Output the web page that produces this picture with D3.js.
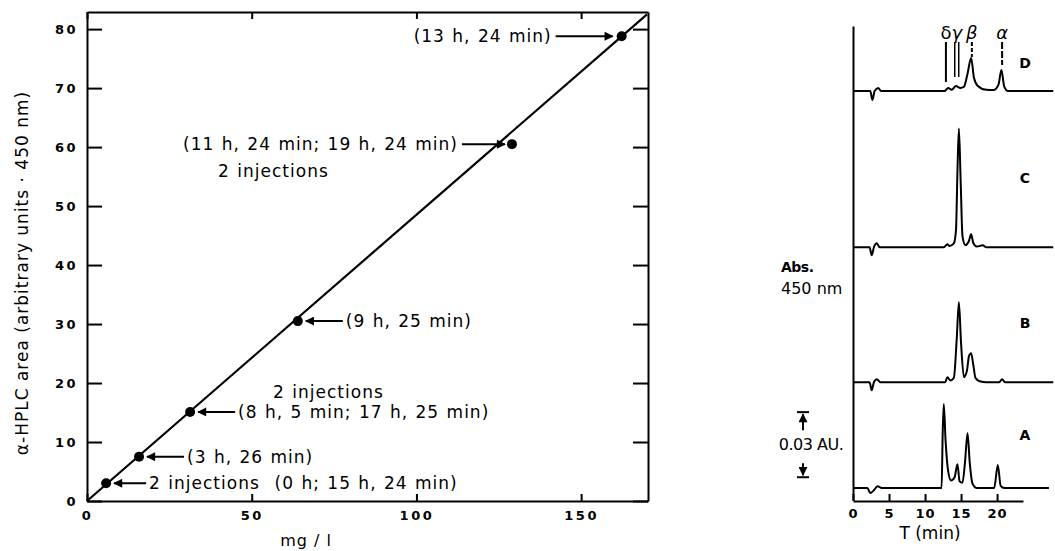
<!DOCTYPE html>
<html lang="en">
<head>
<meta charset="utf-8">
<title>HPLC calibration and chromatograms</title>
<script src="https://d3js.org/d3.v7.min.js"></script>
<style>
  body { margin: 0; background: #fff; }
  svg { display: block; font-family: "DejaVu Sans", sans-serif; }
  .axis path, .axis line { stroke: #000; stroke-width: 2; }
  .axis text { font-family: "DejaVu Sans", sans-serif; font-size: 13px; font-weight: bold; letter-spacing: 2.5px; fill: #000; }
  .note { font-size: 17px; letter-spacing: 1px; word-spacing: 1px; }
</style>
</head>
<body>
<svg width="1055" height="551"></svg>
<script>

// calibration: concentration (mg/l) vs alpha-HPLC area
var conc = [5.8, 15.8, 31.3, 64, 129, 162.3];
var area = [3, 7.5, 15.1, 30.5, 60.5, 78.8];
var pointLabels = ["2 injections\u00a0 (0 h; 15 h, 24 min)", "(3 h, 26 min)", "(8 h, 5 min; 17 h, 25 min)",
                   "(9 h, 25 min)", "(11 h, 24 min; 19 h, 24 min)", "(13 h, 24 min)"];
var pointNotes = ["", "", "2 injections", "", "2 injections", ""];
var fitConc = [0, 170];
var fitArea = [0, 82.5];
var concTicks = [0, 50, 100, 150];
var areaTicks = [0, 10, 20, 30, 40, 50, 60, 70, 80];

// chromatograms, [time (min), absorbance (mAU)]
var traceNames = ["A", "B", "C", "D"];
var traceOffsets = [0, 48.8, 111, 183];
var traceA = [[0,0],[2.0,0],[2.4,-2.3],[2.9,-1],[3.4,0.8],[4.0,0],[12.3,0],[12.45,25],[12.6,38.7],[12.85,22],
              [13.2,8],[13.6,3.5],[14.1,5],[14.5,11],[14.8,3],[15.2,2.5],[15.55,12],[15.9,25.3],[16.2,12],
              [16.6,2],[17.2,0],[19.6,0],[20.1,10.6],[20.5,1],[21,0],[27.2,0]];
var traceB = [[0,0],[2.3,0],[2.6,-3.7],[2.9,0],[3.3,1.4],[3.8,0],[12.8,0],[13.1,2.3],[13.5,0.8],[14.0,2],
              [14.4,20],[14.7,36.9],[15.0,18],[15.4,2.3],[15.8,5],[16.1,12],[16.4,13.4],[16.7,8],[17.0,2],
              [17.6,0.4],[18.5,0],[20.3,0],[20.7,1.4],[21.1,0],[27.8,0]];
var traceC = [[0,0],[2.3,0],[2.6,-3.7],[2.9,0],[3.3,1.8],[3.7,0],[12.6,0],[13.1,1.4],[13.4,0.6],[14.0,1.8],
              [14.3,8],[14.5,35],[14.7,54.8],[14.95,30],[15.2,5],[15.6,1],[16.1,3],[16.4,6],[16.7,2],
              [17.2,0.4],[18.0,0.9],[18.5,0],[27.8,0]];
var traceD = [[0,0],[2.4,0],[2.7,-4.1],[3.0,0],[3.5,1.4],[3.9,0],[12.7,0],[13.2,1.4],[13.7,0.6],[14.3,2.3],
              [14.9,1.4],[15.4,2],[15.9,8],[16.4,15.2],[16.8,6],[17.3,2.5],[18.5,0.6],[19.5,0.5],[20.2,3],
              [20.6,9.7],[21.0,2],[21.5,0],[27.8,0]];
var timeTicks = [0, 5, 10, 15, 20];
var peakNames = ["δ", "γ", "β", "α"];
var peakTimes = [12.9, 14.4, 16.5, 20.7];
var scaleBarAU = 30; // 0.03 AU

var svg = d3.select("svg");

// ---------- left panel ----------
var x = d3.scaleLinear().domain([0, 170.3]).range([87, 648]),
    y = d3.scaleLinear().domain([0, 82.9]).range([501, 12]);

svg.append("defs").append("marker")
    .attr("id", "head")
    .attr("viewBox", "0 0 10 10")
    .attr("refX", 9).attr("refY", 5)
    .attr("markerWidth", 11).attr("markerHeight", 9)
    .attr("markerUnits", "userSpaceOnUse")
    .attr("orient", "auto")
  .append("path")
    .attr("d", "M0,0L10,5L0,10z");

svg.append("g").attr("class", "axis")
    .attr("transform", "translate(" + x(0) + ",0)")
    .call(d3.axisLeft(y).tickValues(areaTicks).tickSize(-15).tickSizeOuter(0).tickPadding(9));
svg.append("g").attr("class", "axis")
    .attr("transform", "translate(" + x.range()[1] + ",0)")
    .call(d3.axisRight(y).tickValues(areaTicks).tickSize(-15).tickSizeOuter(0).tickFormat(""));
svg.append("g").attr("class", "axis")
    .attr("transform", "translate(0," + y(0) + ")")
    .call(d3.axisBottom(x).tickValues(concTicks).tickSize(-7).tickSizeOuter(0).tickPadding(10));
svg.append("g").attr("class", "axis")
    .attr("transform", "translate(0," + y.range()[1] + ")")
    .call(d3.axisTop(x).tickValues(concTicks).tickSize(-7).tickSizeOuter(0).tickFormat(""));

svg.append("path")
    .datum(d3.zip(fitConc, fitArea))
    .attr("fill", "none").attr("stroke", "#000").attr("stroke-width", 2.2)
    .attr("d", d3.line().x(function(d) { return x(d[0]); }).y(function(d) { return y(d[1]); }));

svg.selectAll(".dot")
  .data(d3.range(conc.length))
  .enter().append("circle")
    .attr("class", "dot")
    .attr("cx", function(i) { return x(conc[i]); })
    .attr("cy", function(i) { return y(area[i]); })
    .attr("r", 5);

// arrows + labels
d3.range(conc.length).forEach(function(i) {
  var px = x(conc[i]), py = y(area[i]);
  var fromRight = i < 4;
  var t = svg.append("text").attr("class", "note")
      .attr("y", py).attr("dy", "0.35em")
      .text(pointLabels[i]);
  var start;
  if (fromRight) {
    var len = i == 0 ? 32 : 37;
    svg.append("line").attr("stroke", "#000").attr("stroke-width", 2)
        .attr("x1", px + 8 + len).attr("y1", py).attr("x2", px + 8).attr("y2", py)
        .attr("marker-end", "url(#head)");
    start = px + 8 + len + 3;
    t.attr("x", start);
  } else {
    var alen = i == 5 ? 57 : 43;
    var tip = px - (i == 5 ? 9 : 7);
    svg.append("line").attr("stroke", "#000").attr("stroke-width", 2)
        .attr("x1", tip - alen).attr("y1", py).attr("x2", tip).attr("y2", py)
        .attr("marker-end", "url(#head)");
    t.attr("x", tip - alen - 4).attr("text-anchor", "end");
    start = tip - alen - 4 - t.node().getComputedTextLength();
  }
  if (pointNotes[i]) {
    svg.append("text").attr("class", "note")
        .attr("x", start + 35)
        .attr("y", py + (fromRight ? -20 : 27)).attr("dy", "0.35em")
        .text(pointNotes[i]);
  }
});

svg.append("text")
    .attr("transform", "translate(22,273) rotate(-90)")
    .attr("text-anchor", "middle").attr("dy", "0.35em")
    .style("font-size", "17px").style("letter-spacing", "1px")
    .text("α-HPLC area (arbitrary units · 450 nm)");

svg.append("text")
    .attr("x", 306).attr("y", 546)
    .attr("text-anchor", "middle")
    .style("font-size", "16px").style("letter-spacing", "1px")
    .text("mg / l");

// ---------- right panel ----------
var xt = d3.scaleLinear().domain([0, 23.6]).range([853, 1023]),
    ya = d3.scaleLinear().domain([-5.5, 213]).range([500, 26]);

svg.append("g").attr("class", "axis")
    .attr("transform", "translate(" + xt(0) + ",0)")
    .call(d3.axisLeft(ya).tickValues([]).tickSizeOuter(0));
svg.append("g").attr("class", "axis")
    .attr("transform", "translate(0,501)")
    .call(d3.axisBottom(xt).tickValues(timeTicks).tickSize(-7).tickSizeOuter(0).tickPadding(8))
    .selectAll("text").style("letter-spacing", "1px");

var traces = [traceA, traceB, traceC, traceD];
var labelRise = [53, 59, 69, 28];
traces.forEach(function(tr, k) {
  var off = traceOffsets[k];
  svg.append("path")
      .datum(tr)
      .attr("fill", "none").attr("stroke", "#000").attr("stroke-width", 2)
      .attr("stroke-linejoin", "round")
      .attr("d", d3.line()
        .x(function(d) { return xt(d[0]); })
        .y(function(d) { return ya(d[1] + off); })
        .curve(d3.curveMonotoneX));
  svg.append("text")
      .attr("x", 1025).attr("y", ya(off) - labelRise[k]).attr("dy", "0.35em")
      .attr("text-anchor", "middle")
      .style("font-size", "14px").style("font-weight", "bold")
      .text(traceNames[k]);
});

// peak markers above D
var markEnd = [82, 77, 57, 65];
peakNames.forEach(function(p, k) {
  var px = xt(peakTimes[k]);
  svg.append("text")
      .attr("x", px).attr("y", 33).attr("dy", "0.35em")
      .attr("text-anchor", "middle")
      .style("font-size", "18px")
      .style("font-style", k > 0 ? "italic" : "normal")
      .text(p);
  var offs = k == 1 ? [-2, 2] : [0];
  offs.forEach(function(o) {
    svg.append("line")
        .attr("x1", px + o).attr("x2", px + o)
        .attr("y1", 42).attr("y2", markEnd[k])
        .attr("stroke", "#000").attr("stroke-width", k == 1 ? 1.5 : 2)
        .attr("stroke-dasharray", k == 2 ? "4,2" : (k == 3 ? "7,2" : null));
  });
});

svg.append("text").attr("x", 781).attr("y", 267).attr("dy", "0.35em")
    .style("font-size", "14px").style("font-weight", "bold").style("letter-spacing", "-0.5px")
    .text("Abs.");
svg.append("text").attr("x", 781).attr("y", 288).attr("dy", "0.35em")
    .style("font-size", "16px")
    .text("450 nm");

// scale bar 0.03 AU
var barTop = ya(5 + scaleBarAU), barBot = ya(5), bx = 803;
svg.append("line").attr("x1", bx - 6).attr("x2", bx + 6).attr("y1", barTop).attr("y2", barTop)
    .attr("stroke", "#000").attr("stroke-width", 2);
svg.append("line").attr("x1", bx - 6).attr("x2", bx + 6).attr("y1", barBot).attr("y2", barBot)
    .attr("stroke", "#000").attr("stroke-width", 2);
svg.append("line").attr("x1", bx).attr("x2", bx).attr("y1", barTop + 18).attr("y2", barTop + 2)
    .attr("stroke", "#000").attr("stroke-width", 2).attr("marker-end", "url(#head)");
svg.append("line").attr("x1", bx).attr("x2", bx).attr("y1", barBot - 14).attr("y2", barBot - 2)
    .attr("stroke", "#000").attr("stroke-width", 2).attr("marker-end", "url(#head)");
svg.append("text").attr("x", 811).attr("y", (barTop + barBot) / 2).attr("dy", "0.35em")
    .attr("text-anchor", "middle")
    .style("font-size", "16px").style("letter-spacing", "-0.5px")
    .text("0.03 AU.");

svg.append("text")
    .attr("x", 930).attr("y", 539)
    .attr("text-anchor", "middle")
    .style("font-size", "17px")
    .text("T (min)");

</script>
</body>
</html>
